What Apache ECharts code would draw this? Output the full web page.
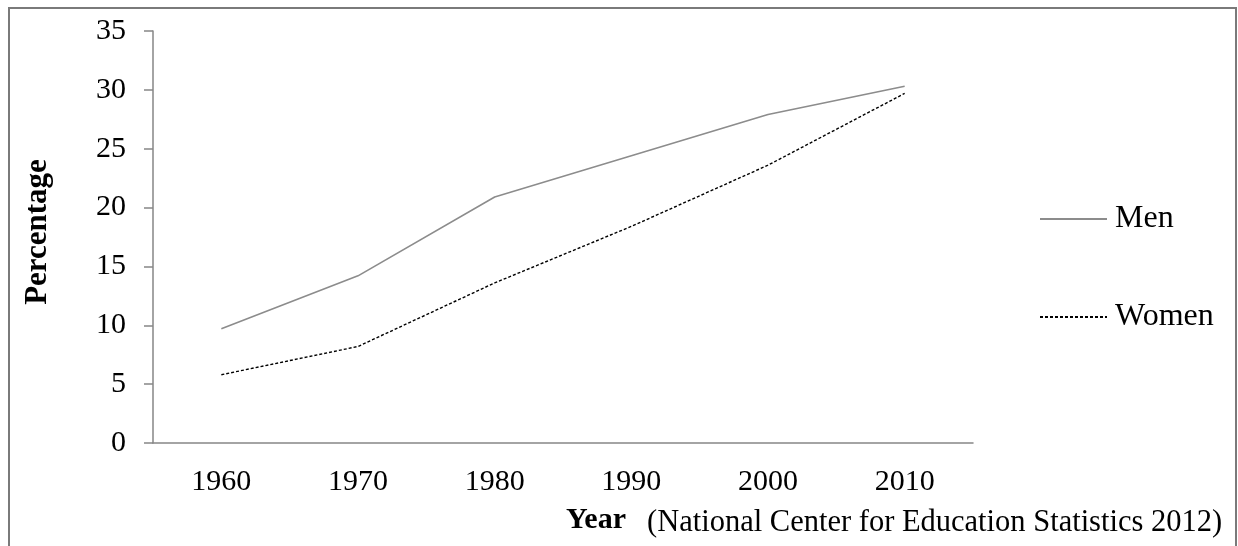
<!DOCTYPE html>
<html><head><meta charset="utf-8">
<script src="https://cdn.jsdelivr.net/npm/echarts@6/dist/echarts.min.js"></script>
<style>html,body{margin:0;padding:0;background:#fff}#c{width:1238px;height:546px}</style>
</head><body><div id="c"></div>
<script>
const years = ['1960','1970','1980','1990','2000','2010'];
const menValues = [9.7, 14.2, 20.9, 24.4, 27.9, 30.3];
const womenValues = [5.8, 8.2, 13.6, 18.4, 23.6, 29.7];
const yTicks = {min: 0, max: 35, interval: 5};
const FONT = '"Liberation Serif", "Times New Roman", serif';
const AX = '#868686';
const chart = echarts.init(document.getElementById('c'), null, {renderer: 'canvas'});
chart.setOption({
  animation: false,
  backgroundColor: '#fff',
  textStyle: {fontFamily: FONT},
  grid: {left: 153, right: 265, top: 31, bottom: 103},
  graphic: [
    {type: 'rect', shape: {x: 9, y: 8, width: 1227, height: 600}, style: {fill: 'none', stroke: '#7a7a7a', lineWidth: 2}},
    {type: 'text', left: 647, top: 507, style: {text: '(National Center for Education Statistics 2012)', font: '30.5px ' + FONT, fill: '#000'}}
  ],
  legend: {
    orient: 'vertical', left: 1034, top: 198, itemGap: 66, itemWidth: 67, itemHeight: 32,
    itemStyle: {opacity: 0},
    textStyle: {fontFamily: FONT, fontSize: 32, color: '#000', padding: [0, 0, 0, 3]},
    data: ['Men', 'Women']
  },
  xAxis: {
    type: 'category', data: years, boundaryGap: true,
    name: 'Year', nameLocation: 'middle', nameGap: 62,
    nameTextStyle: {fontFamily: FONT, fontSize: 30, fontWeight: 'bold', color: '#000', padding: [0, 0, 0, 66]},
    axisLine: {lineStyle: {color: AX, width: 1.5}},
    axisTick: {length: 9, lineStyle: {color: AX, width: 1.5}},
    axisLabel: {fontFamily: FONT, fontSize: 30, color: '#000', margin: 24},
    splitLine: {show: false}
  },
  yAxis: {
    type: 'value', min: yTicks.min, max: yTicks.max, interval: yTicks.interval,
    name: 'Percentage', nameLocation: 'middle', nameGap: 100, nameRotate: 90,
    nameTextStyle: {fontFamily: FONT, fontSize: 31, fontWeight: 'bold', color: '#000', padding: [0, 0, 0, 10]},
    axisLine: {show: true, lineStyle: {color: AX, width: 1.5}},
    axisTick: {show: true, length: 9, lineStyle: {color: AX, width: 1.5}},
    axisLabel: {fontFamily: FONT, fontSize: 30, color: '#000', margin: 27},
    splitLine: {show: false}
  },
  series: [
    {name: 'Men', type: 'line', data: menValues, symbol: 'none', lineStyle: {color: '#8c8c8c', width: 1.6}, itemStyle: {color: '#8c8c8c'}},
    {name: 'Women', type: 'line', data: womenValues, symbol: 'none', lineStyle: {color: '#000', width: 1.4, type: [3, 2]}, itemStyle: {color: '#000'}}
  ]
});
</script></body></html>
